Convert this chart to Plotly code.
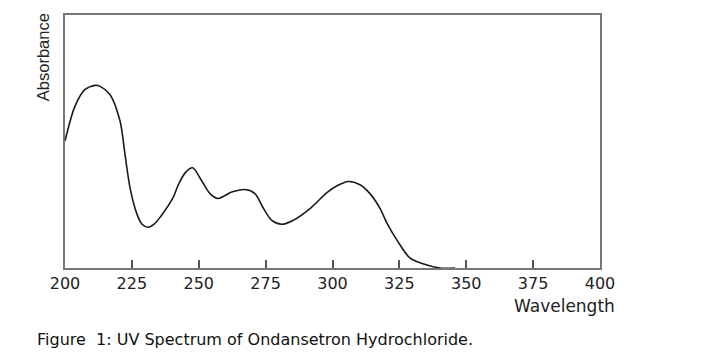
import plotly.graph_objects as go

# Wavelength (nm) and relative absorbance
wavelength = [200.0, 203.7, 207.5, 211.2, 213.1, 216.8, 220.6, 222.4, 224.3, 226.8,
              228.8, 231.0, 233.3, 235.5, 240.4, 242.2, 244.9, 247.7, 251.1, 254.2,
              257.2, 262.3, 267.3, 271.0, 274.0, 277.3, 281.0, 285.2, 291.6, 297.9,
              301.7, 305.8, 310.3, 314.0, 317.8, 320.4, 324.1, 329.0, 335.3, 340.2, 345.8]
absorbance = [0.502, 0.639, 0.706, 0.722, 0.718, 0.686, 0.580, 0.451, 0.318, 0.216,
              0.173, 0.161, 0.173, 0.200, 0.278, 0.325, 0.376, 0.396, 0.345, 0.294,
              0.275, 0.300, 0.310, 0.294, 0.239, 0.188, 0.173, 0.188, 0.235, 0.298,
              0.325, 0.342, 0.329, 0.294, 0.235, 0.176, 0.110, 0.039, 0.012, 0.0, 0.0]
tick_values = [200, 225, 250, 275, 300, 325, 350, 375, 400]
tick_labels = [str(v) for v in tick_values]

fig = go.Figure()
fig.add_trace(go.Scatter(
    x=wavelength, y=absorbance, mode="lines",
    line=dict(color="#1a1a1a", width=1.6, shape="spline", smoothing=0.8),
    showlegend=False, hoverinfo="skip"))

fig.update_layout(
    width=713, height=350,
    margin=dict(l=57, r=121, t=5, b=90),
    paper_bgcolor="white", plot_bgcolor="white",
    xaxis=dict(range=[200, 400], tickvals=tick_values, ticktext=tick_labels,
               ticks="inside", ticklen=8, tickwidth=1.5, tickcolor="#555555",
               showgrid=False, zeroline=False, showline=True, mirror=True,
               linecolor="#777777", linewidth=2,
               tickfont=dict(family="DejaVu Sans", size=16, color="#222222")),
    yaxis=dict(range=[0, 1], showticklabels=False, ticks="", showgrid=False,
               zeroline=False, showline=True, mirror=True,
               linecolor="#777777", linewidth=2),
    annotations=[
        dict(text="Wavelength", xref="paper", yref="paper", x=(617 - 65) / 535,
             y=(268 - 306) / 255, xanchor="right", yanchor="middle", showarrow=False,
             font=dict(family="DejaVu Sans", size=17, color="#222222")),
        dict(text="Absorbance", xref="paper", yref="paper", x=(43 - 65) / 535,
             y=(268 - 55.5) / 255, xanchor="center", yanchor="middle", textangle=-90,
             showarrow=False,
             font=dict(family="Liberation Sans", size=16.5, color="#222222")),
        dict(text="Figure\u00a0\u00a01: UV Spectrum of Ondansetron Hydrochloride.",
             xref="paper", yref="paper", x=(35 - 65) / 535, y=(268 - 340) / 255,
             xanchor="left", yanchor="middle", showarrow=False,
             font=dict(family="DejaVu Sans", size=16, color="#111111")),
    ],
)

fig.write_html("out.html")
